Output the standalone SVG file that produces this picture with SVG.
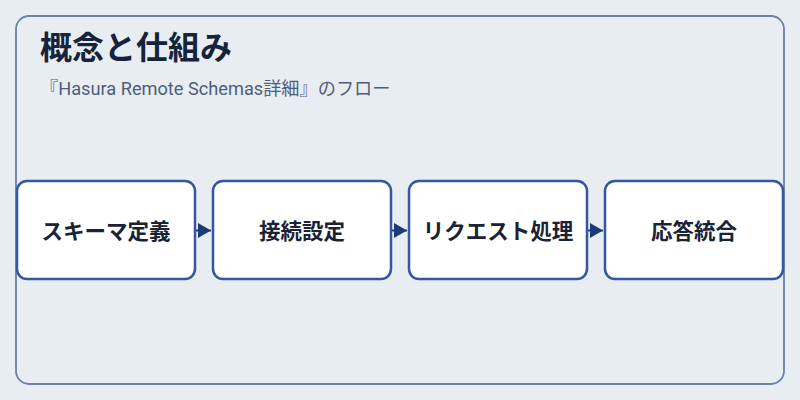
<svg xmlns="http://www.w3.org/2000/svg" width="800" height="400" viewBox="0 0 800 400">
<defs>
<style>
.title{font-family:Roboto,"Noto Sans CJK JP",sans-serif;font-size:32px;font-weight:700;fill:#16233b}
.sub{font-family:Roboto,"Noto Sans CJK JP",sans-serif;font-size:18.2px;fill:#4d5d7a}
.box{fill:#ffffff;stroke:#3558a2;stroke-width:2.5}
.lbl{font-family:Roboto,"Noto Sans CJK JP",sans-serif;font-size:21.5px;font-weight:700;fill:#1a2236;text-anchor:middle;dominant-baseline:central}
.conn{stroke:#1f3a78;stroke-width:2;fill:none}
</style>
<marker id="arr" viewBox="0 0 13 15" refX="13" refY="7.5" markerWidth="13" markerHeight="15" markerUnits="userSpaceOnUse" orient="auto">
<path d="M0,0 L13,7.5 L0,15 Z" fill="#1f3a78"/>
</marker>
</defs>
<rect width="800" height="400" fill="#e8edf2"/>
<rect x="16" y="16" width="768" height="368" rx="13" fill="#e8edf2" stroke="#6a80ad" stroke-width="1.8"/>
<text class="title" x="40" y="59">概念と仕組み</text>
<text class="sub" x="40" y="95">『Hasura Remote Schemas詳細』のフロー</text>
<g id="connectors">
<line class="conn" x1="196" y1="230.5" x2="211" y2="230.5" marker-end="url(#arr)"/>
<line class="conn" x1="392" y1="230.5" x2="407" y2="230.5" marker-end="url(#arr)"/>
<line class="conn" x1="588" y1="230.5" x2="603" y2="230.5" marker-end="url(#arr)"/>
</g>
<g id="node1"><rect class="box" x="17" y="181" width="178" height="98" rx="10"/><text class="lbl" x="106" y="231">スキーマ定義</text></g>
<g id="node2"><rect class="box" x="213" y="181" width="178" height="98" rx="10"/><text class="lbl" x="302" y="231">接続設定</text></g>
<g id="node3"><rect class="box" x="409" y="181" width="178" height="98" rx="10"/><text class="lbl" x="498" y="231">リクエスト処理</text></g>
<g id="node4"><rect class="box" x="605" y="181" width="178" height="98" rx="10"/><text class="lbl" x="694" y="231">応答統合</text></g>
</svg>
